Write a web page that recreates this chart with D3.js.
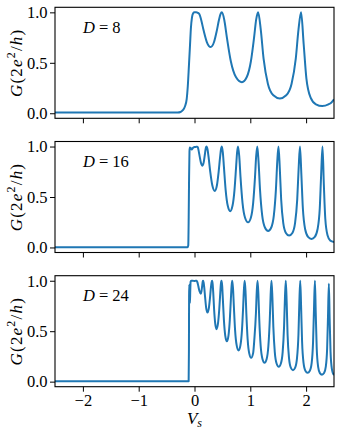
<!DOCTYPE html>
<html>
<head>
<meta charset="utf-8">
<script src="https://cdn.jsdelivr.net/npm/d3@7"></script>
<style>
  body { margin: 0; background: #fff; }
  svg text { font-family: "Liberation Serif", "DejaVu Serif", serif; fill: #000; }
</style>
</head>
<body>
<div id="chart"></div>
<script>
// conductance G(2e^2/h) vs V_s, one panel per D
const dValues = [8, 16, 24];
const xTicks = [-2, -1, 0, 1, 2];
const yTicks = [0, 0.5, 1];

const curveD8 = [
  [-2.5,0.007],[-1.5,0.007],[-0.3,0.007],[-0.25,0.012],[-0.21,0.03],[-0.17,0.07],[-0.14,0.14],[-0.12,0.27],
  [-0.1,0.47],[-0.08,0.68],[-0.065,0.84],[-0.045,0.95],[-0.025,0.99],[0,1],[0.03,1],[0.06,0.995],
  [0.088,0.982],[0.118,0.929],[0.164,0.819],[0.221,0.706],[0.29,0.656],[0.35,0.706],[0.4,0.819],[0.44,0.929],[0.466,0.982],[0.49,1],
  [0.533,0.927],[0.58,0.752],[0.652,0.513],[0.742,0.359],[0.85,0.308],[0.937,0.359],[1.01,0.513],[1.068,0.752],[1.105,0.927],[1.14,1],
  [1.187,0.831],[1.238,0.541],[1.316,0.29],[1.413,0.178],[1.53,0.147],[1.644,0.178],[1.739,0.29],[1.815,0.541],[1.864,0.831],[1.91,1],
  [1.956,0.689],[2.005,0.346],[2.081,0.155],[2.176,0.089],[2.29,0.072],[2.4,0.088],[2.45,0.105],[2.5,0.138]
];

const curveD16 = [
  [-2.5,0.003],[-1.5,0.003],[-0.125,0.003],[-0.112,0.02],[-0.104,0.3],[-0.097,0.7],[-0.09,0.95],[-0.085,0.99],
  [-0.07,0.985],[-0.05,0.97],[-0.03,0.985],[0,0.995],[0.03,0.997],[0.047,0.998],
  [0.059,0.992],[0.071,0.967],[0.09,0.91],[0.114,0.843],[0.143,0.81],[0.165,0.843],[0.183,0.91],[0.197,0.967],[0.206,0.992],[0.215,1],
  [0.233,0.973],[0.252,0.897],[0.282,0.751],[0.319,0.616],[0.364,0.56],[0.402,0.616],[0.433,0.751],[0.459,0.897],[0.475,0.973],[0.49,1],
  [0.508,0.941],[0.528,0.793],[0.558,0.571],[0.595,0.415],[0.64,0.36],[0.682,0.415],[0.717,0.571],[0.745,0.793],[0.763,0.941],[0.78,1],
  [0.802,0.904],[0.825,0.694],[0.861,0.44],[0.906,0.295],[0.96,0.249],[1.01,0.295],[1.051,0.44],[1.084,0.694],[1.105,0.904],[1.125,1],
  [1.148,0.848],[1.174,0.573],[1.213,0.317],[1.262,0.198],[1.32,0.164],[1.376,0.198],[1.422,0.317],[1.459,0.573],[1.483,0.848],[1.505,1],
  [1.528,0.792],[1.553,0.477],[1.591,0.241],[1.638,0.144],[1.695,0.118],[1.754,0.144],[1.802,0.241],[1.841,0.477],[1.867,0.792],[1.89,1],
  [1.915,0.726],[1.942,0.388],[1.983,0.18],[2.035,0.105],[2.097,0.085],[2.156,0.105],[2.205,0.18],[2.245,0.388],[2.27,0.726],[2.294,1],
  [2.318,0.624],[2.344,0.284],[2.384,0.121],[2.434,0.068],[2.5,0.055]
];

const curveD24 = [
  [-2.5,0.004],[-1.5,0.004],[-0.105,0.004],[-0.1,0.3],[-0.097,0.85],[-0.094,0.96],[-0.088,0.9],[-0.082,0.78],
  [-0.076,0.9],[-0.07,0.99],[-0.06,1],[-0.03,1],[0,0.997],[0.023,1],[0.035,1],
  [0.044,0.995],[0.055,0.979],[0.07,0.942],[0.09,0.896],[0.113,0.872],[0.125,0.896],[0.136,0.942],[0.144,0.979],[0.149,0.995],[0.154,1],
  [0.163,0.984],[0.174,0.937],[0.19,0.837],[0.209,0.732],[0.233,0.685],[0.258,0.732],[0.279,0.837],[0.295,0.937],[0.306,0.984],[0.316,1],
  [0.325,0.969],[0.336,0.881],[0.351,0.72],[0.371,0.577],[0.394,0.52],[0.421,0.577],[0.444,0.72],[0.462,0.881],[0.473,0.969],[0.484,1],
  [0.496,0.95],[0.508,0.82],[0.527,0.612],[0.551,0.457],[0.58,0.4],[0.609,0.457],[0.633,0.612],[0.652,0.82],[0.665,0.95],[0.676,1],
  [0.69,0.927],[0.705,0.752],[0.727,0.513],[0.756,0.359],[0.79,0.308],[0.823,0.359],[0.851,0.513],[0.873,0.752],[0.887,0.927],[0.9,1],
  [0.914,0.898],[0.929,0.678],[0.952,0.423],[0.981,0.28],[1.015,0.236],[1.05,0.28],[1.073,0.423],[1.101,0.678],[1.116,0.898],[1.13,1],
  [1.145,0.868],[1.161,0.611],[1.186,0.353],[1.218,0.225],[1.255,0.187],[1.293,0.225],[1.324,0.353],[1.349,0.611],[1.365,0.868],[1.38,1],
  [1.396,0.832],[1.413,0.543],[1.439,0.292],[1.471,0.18],[1.51,0.148],[1.548,0.18],[1.58,0.292],[1.605,0.543],[1.621,0.832],[1.636,1],
  [1.652,0.786],[1.668,0.468],[1.694,0.234],[1.726,0.139],[1.765,0.114],[1.804,0.139],[1.837,0.234],[1.863,0.468],[1.879,0.786],[1.895,1],
  [1.911,0.733],[1.928,0.397],[1.954,0.186],[1.987,0.108],[2.027,0.088],[2.067,0.108],[2.1,0.186],[2.125,0.397],[2.142,0.733],[2.158,1],
  [2.173,0.679],[2.19,0.336],[2.215,0.15],[2.247,0.085],[2.285,0.069],[2.322,0.085],[2.353,0.15],[2.377,0.33],[2.393,0.66],[2.408,0.97],
  [2.422,0.626],[2.438,0.295],[2.462,0.127],[2.492,0.072],[2.5,0.07]
];

const curves = [curveD8, curveD16, curveD24];

// layout
const width = 341, height = 434;
const plotLeft = 55, plotRight = 334;
const panelTops = [7.3, 141.5, 275.7];
const panelHeight = 111;
const fontSize = 16.5;
const lineColor = "#1f77b4";

const svg = d3.select("#chart")
  .append("svg")
  .attr("width", width)
  .attr("height", height);

const x = d3.scaleLinear().domain([-2.5, 2.5]).range([plotLeft, plotRight]);

const line = d3.line()
  .curve(d3.curveMonotoneX);

curves.forEach(function (data, i) {
  let top = panelTops[i];
  let y = d3.scaleLinear().domain([-0.05, 1.05]).range([top + panelHeight, top]);
  let isLast = i === curves.length - 1;

  let g = svg.append("g");

  svg.append("clipPath")
    .attr("id", "clip" + i)
    .append("rect")
    .attr("x", plotLeft)
    .attr("y", top)
    .attr("width", plotRight - plotLeft)
    .attr("height", panelHeight);

  // the curve
  g.append("path")
    .datum(data)
    .attr("clip-path", "url(#clip" + i + ")")
    .attr("fill", "none")
    .attr("stroke", lineColor)
    .attr("stroke-width", 2)
    .attr("stroke-linejoin", "round")
    .attr("d", line.x(d => x(d[0])).y(d => y(d[1])));

  // axes
  let xAxis = d3.axisBottom(x)
    .tickValues(xTicks)
    .tickSize(5)
    .tickSizeOuter(0)
    .tickPadding(3)
    .tickFormat(isLast ? d3.format("d") : () => "");

  let yAxis = d3.axisLeft(y)
    .tickValues(yTicks)
    .tickSize(5)
    .tickSizeOuter(0)
    .tickPadding(2.5)
    .tickFormat(d3.format(".1f"));

  let gx = g.append("g")
    .attr("transform", "translate(0," + (top + panelHeight) + ")")
    .call(xAxis);
  let gy = g.append("g")
    .attr("transform", "translate(" + plotLeft + ",0)")
    .call(yAxis);

  [gx, gy].forEach(function (ax) {
    ax.select(".domain").remove();
    ax.selectAll(".tick line").attr("stroke", "#000").attr("stroke-width", 1);
    ax.selectAll(".tick text")
      .attr("font-size", fontSize)
      .attr("font-family", "Liberation Serif");
  });

  // frame
  g.append("rect")
    .attr("x", plotLeft)
    .attr("y", top)
    .attr("width", plotRight - plotLeft)
    .attr("height", panelHeight)
    .attr("fill", "none")
    .attr("stroke", "#000")
    .attr("stroke-width", 1.1);

  // D = .. label
  let dl = g.append("text")
    .attr("x", x(-2))
    .attr("y", top + 25.5)
    .attr("font-size", fontSize);
  dl.append("tspan").attr("font-style", "italic").text("D");
  dl.append("tspan").text(" = " + dValues[i]);

  // y label G(2e^2/h)
  let yl = g.append("text")
    .attr("transform", "translate(" + 22 + "," + (top + panelHeight / 2) + ") rotate(-90)")
    .attr("text-anchor", "middle")
    .attr("font-size", 17)
    .attr("letter-spacing", 1.2);
  yl.append("tspan").attr("font-style", "italic").text("G");
  yl.append("tspan").text("(2");
  yl.append("tspan").attr("font-style", "italic").text("e");
  yl.append("tspan").attr("font-size", 12).attr("dy", -7).text("2");
  yl.append("tspan").attr("dy", 7).text("/");
  yl.append("tspan").attr("font-style", "italic").text("h");
  yl.append("tspan").text(")");
});

// x label V_s
let xl = svg.append("text")
  .attr("x", x(0))
  .attr("y", 424)
  .attr("text-anchor", "middle")
  .attr("font-size", 17);
xl.append("tspan").attr("font-style", "italic").text("V");
xl.append("tspan").attr("font-style", "italic").attr("font-size", 12).attr("dy", 3).text("s");
</script>
</body>
</html>
